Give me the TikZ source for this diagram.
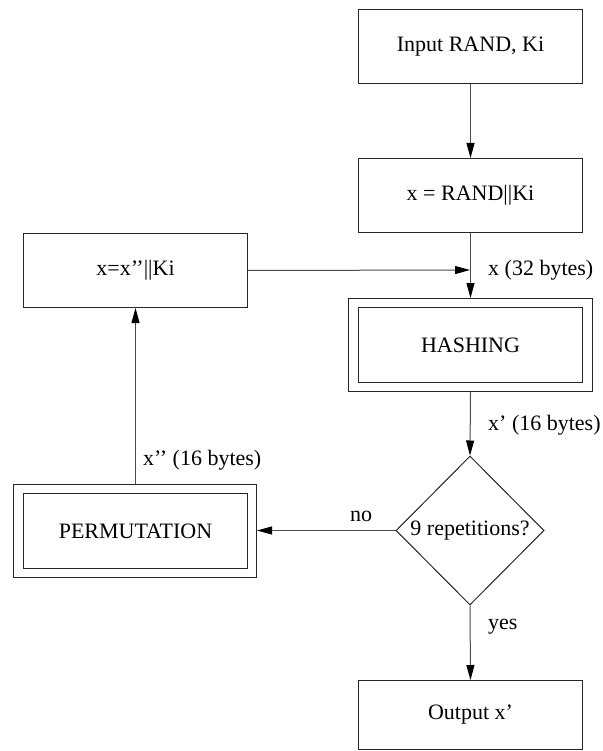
\documentclass[tikz,border=0pt]{standalone}
\usepackage{fontspec}
\setmainfont{Liberation Serif}
\usetikzlibrary{arrows.meta,shapes.geometric}
\begin{document}
\begin{tikzpicture}[x=1pt,y=-1pt,
  every node/.style={font=\fontsize{22}{26}\selectfont},
  boxline/.style={draw=black!85,line width=1pt},
  plainbox/.style={boxline,rectangle,inner sep=0pt,anchor=north west},
  lbl/.style={inner sep=0pt,anchor=west},
  flow/.style={draw=black!70,line width=1pt,-{Triangle[length=15pt,width=8pt,color=black]}},
  link/.style={draw=black!70,line width=1pt}]
\useasboundingbox (0,0) rectangle (602,751);

% single boxes
\node[plainbox,minimum width=224pt,minimum height=74pt] (input) at (358,9) {};
\node at (input.center) {Input RAND, Ki};
\node[plainbox,minimum width=224pt,minimum height=74pt] (concat) at (358,158) {};
\node at (concat.center) {x = RAND||Ki};
\node[plainbox,minimum width=224pt,minimum height=74pt] (reconcat) at (23,233) {};
\node at (reconcat.center) {x=x’’||Ki};
\node[plainbox,minimum width=224pt,minimum height=69pt] (output) at (358,680) {};
\node at (output.center) {Output x’};

% double-framed boxes
\node[plainbox,minimum width=244pt,minimum height=93pt] (hashO) at (348,298) {};
\node[plainbox,minimum width=224pt,minimum height=75pt] (hash) at (358,307) {};
\node at (hash.center) {HASHING};
\node[plainbox,minimum width=243pt,minimum height=93pt] (permO) at (13,484) {};
\node[plainbox,minimum width=224pt,minimum height=75pt] (perm) at (23,493) {};
\node at (perm.center) {PERMUTATION};

% decision
\node[boxline,diamond,inner sep=0pt,minimum width=148pt,minimum height=149pt] (rep) at (470,530.5) {};
\node at (rep.center) {9 repetitions?};

% junction where the loop rejoins the main line
\coordinate (join) at (470,270);

% connectors
\draw[flow] (input.south) -- (concat.north);
\draw[flow] (concat.south) -- (hashO.north);
\draw[flow] (reconcat.east) -- (join);
\draw[flow] (hashO.south) -- (rep.north);
\draw[flow] (rep.west) -- (permO.east |- rep.west);
\draw[flow] (permO.north -| reconcat.south) -- (reconcat.south);
\draw[flow] (rep.south) -- (output.north);

% labels
\node[lbl] (l32) at (488,270) {x (32 bytes)};
\node[lbl] (l16a) at (488,425) {x’ (16 bytes)};
\node[lbl] (l16b) at (143,460) {x’’ (16 bytes)};
\node (lno) at (361,516) {no};
\node[lbl] (lyes) at (488,627) {yes};
\end{tikzpicture}
\end{document}
